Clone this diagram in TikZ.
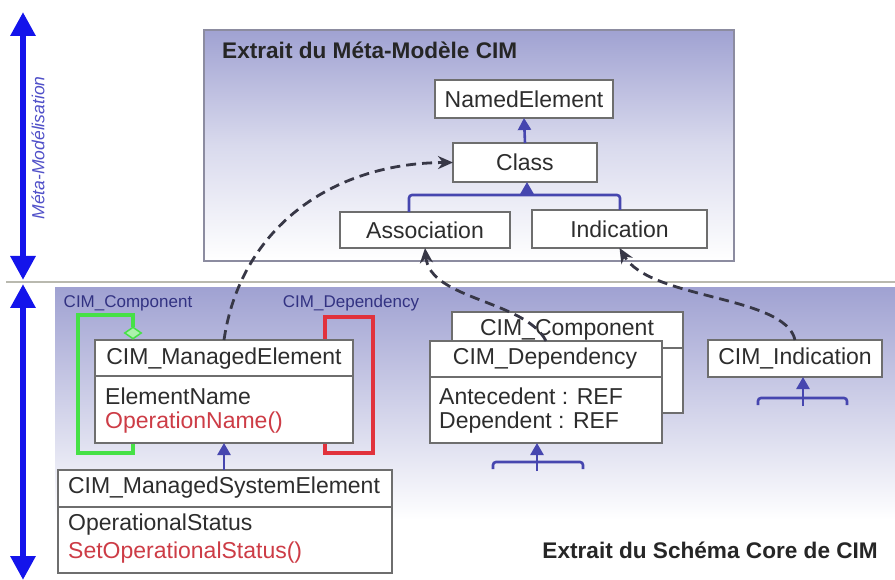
\documentclass[tikz,border=0pt]{standalone}
\usepackage{fontspec}
\setmainfont{Liberation Sans}
\usetikzlibrary{arrows.meta,shapes.geometric}

\definecolor{lav}{RGB}{160,162,210}
\definecolor{framegray}{RGB}{140,140,160}
\definecolor{boxgray}{RGB}{110,110,110}
\definecolor{textgray}{RGB}{45,45,45}
\definecolor{opred}{RGB}{205,60,70}
\definecolor{genblue}{RGB}{70,70,175}
\definecolor{arrowblue}{RGB}{20,20,235}
\definecolor{metablue}{RGB}{80,80,200}
\definecolor{lblblue}{RGB}{50,50,130}
\definecolor{compgreen}{RGB}{70,225,70}
\definecolor{depred}{RGB}{225,50,60}
\definecolor{dashgray}{RGB}{55,55,70}
\definecolor{rulegray}{RGB}{185,185,175}

\tikzset{
	box/.style={draw=boxgray, fill=white, line width=1.3pt, inner sep=0pt, outer sep=0pt,
		text=textgray, font=\fontsize{23}{27}\selectfont},
	boxline/.style={draw=boxgray, line width=1.3pt},
	txt/.style={text=textgray, font=\fontsize{23}{27}\selectfont, inner sep=0pt},
	attr/.style={txt, anchor=west},
	lbl/.style={text=lblblue, font=\fontsize{17}{20}\selectfont, inner sep=0pt},
	title/.style={text=black!85, font=\bfseries\fontsize{22.6}{26}\selectfont, inner sep=0pt},
	gen/.style={genblue, line width=2.6pt, -{Triangle[length=12pt,width=13pt]}},
	genline/.style={genblue, line width=2.6pt, rounded corners=3pt},
	realize/.style={dashgray, line width=2.8pt, dash pattern=on 10pt off 6pt, -{Stealth[length=15pt,width=13pt]}},
	bigarrow/.style={arrowblue, line width=6pt, {Triangle[length=24pt,width=24pt]}-{Triangle[length=24pt,width=24pt]}}
}

\begin{document}
\begin{tikzpicture}[x=1pt, y=-1pt]
	\useasboundingbox (0,0) rectangle (895,580);

	% backgrounds
	\shade[top color=lav, bottom color=white, middle color=lav!40] (204,30) rectangle (734,261);
	\draw[framegray, line width=1.5pt] (204,30) rectangle (734,261);
	\fill[white] (55,288) rectangle (895,580);
	\shade[top color=lav, bottom color=white] (55,288) rectangle (895,520);

	\coordinate (ruleL) at (6,282);
	\coordinate (ruleR) at (895,282);
	\draw[rulegray, line width=2pt] (ruleL) -- (ruleR);

	% the two levels
	\coordinate (metaTop) at (23,12);
	\coordinate (metaBot) at (23,280);
	\coordinate (coreTop) at (23,284);
	\coordinate (coreBot) at (23,580);
	\draw[bigarrow] (metaTop) -- (metaBot);
	\draw[bigarrow] (coreTop) -- (coreBot);
	\node (metaLbl) at (38,148) [rotate=90, text=metablue, font=\itshape\fontsize{17.5}{20}\selectfont, inner sep=0pt] {Méta-Modélisation};

	% meta-model
	\node (metaTitle) at (222,50) [title, anchor=west] {Extrait du Méta-Modèle CIM};
	\node (named) at (524,99)    [box, minimum width=178, minimum height=38] {NamedElement};
	\node (cls)   at (525,162.5) [box, minimum width=144, minimum height=39] {Class};
	\node (asso)  at (425,230)   [box, minimum width=170, minimum height=36] {Association};
	\node (ind)   at (619.5,229) [box, minimum width=175, minimum height=38] {Indication};

	\draw[gen] (cls.north) -- (named.south);
	\coordinate (treeL) at (409,195);
	\coordinate (treeR) at (620,195);
	\coordinate (treeM) at (527,195);
	\draw[genline] (treeL |- asso.north) -- (treeL) -- (treeR) -- (treeR |- ind.north);
	\draw[gen] (treeM) -- (treeM |- cls.south);

	% core schema
	\node (compLbl) at (128,303) [lbl] {CIM\_Component};
	\node (depLbl)  at (351,303) [lbl] {CIM\_Dependency};
	\coordinate (compTop) at (133,327);
	\draw[compgreen, line width=3.5pt] (compTop) |- (78,315) |- (133,453) -- (133,440);
	\draw[depred, line width=3.5pt] (325,317) rectangle (373,453);

	\node (me) at (224,391.5) [box, minimum width=258, minimum height=103] {};
	\draw[boxline] (me.north west) ++(0,36) -- ++(258,0);
	\node (meName) at (224,359) [txt] {CIM\_ManagedElement};
	\node (meAttr) at (105,396) [attr] {ElementName};
	\node (meOp)   at (105,423) [attr, text=opred] {OperationName()};
	\node (compDia) at (133,333) [diamond, draw=compgreen, fill=compgreen!45, line width=1.5pt, inner sep=0pt, minimum width=17, minimum height=12] {};

	\node (mse) at (225,521.5) [box, minimum width=334, minimum height=103] {};
	\draw[boxline] (mse.north west) ++(0,37) -- ++(334,0);
	\node (mseName) at (224,488) [txt] {CIM\_ManagedSystemElement};
	\node (mseAttr) at (68,525)  [attr] {OperationalStatus};
	\node (mseOp)   at (68,553)  [attr, text=opred] {SetOperationalStatus()};
	\draw[gen] (me.south |- mse.north) -- (me.south);

	\node (comp) at (567.5,362.5) [box, minimum width=231, minimum height=101] {};
	\draw[boxline] (comp.north west) ++(0,36) -- ++(231,0);
	\node (compName) at (567,330) [txt] {CIM\_Component};

	\node (dep) at (546,392) [box, minimum width=232, minimum height=102] {};
	\draw[boxline] (dep.north west) ++(0,36) -- ++(232,0);
	\node (depName) at (545,359) [txt] {CIM\_Dependency};
	\node (depAnt)  at (439,396) [attr] {Antecedent : REF};
	\node (depDep)  at (439,423) [attr] {Dependent : REF};

	\node (cimind) at (795,358.5) [box, minimum width=174, minimum height=37] {CIM\_Indication};

	% inheritance stubs
	\coordinate (depStem) at (537,471);
	\draw[genline] (493,469) |- (583,462) -- (583,469);
	\draw[gen] (depStem) -- (depStem |- dep.south);
	\coordinate (indStem) at (803,406);
	\draw[genline] (758,405) |- (847,398) -- (847,405);
	\draw[gen] (indStem) -- (indStem |- cimind.south);

	% instances of the meta-classes
	\draw[realize] (me.north) .. controls (240,230) and (330,163) .. (cls.west);
	\draw[realize] (dep.north) .. controls (525,300) and (430,300) .. (asso.south);
	\draw[realize] (cimind.north) .. controls (785,295) and (650,300) .. (ind.south);

	\node (coreTitle) at (878,550) [title, anchor=east] {Extrait du Schéma Core de CIM};
\end{tikzpicture}
\end{document}
